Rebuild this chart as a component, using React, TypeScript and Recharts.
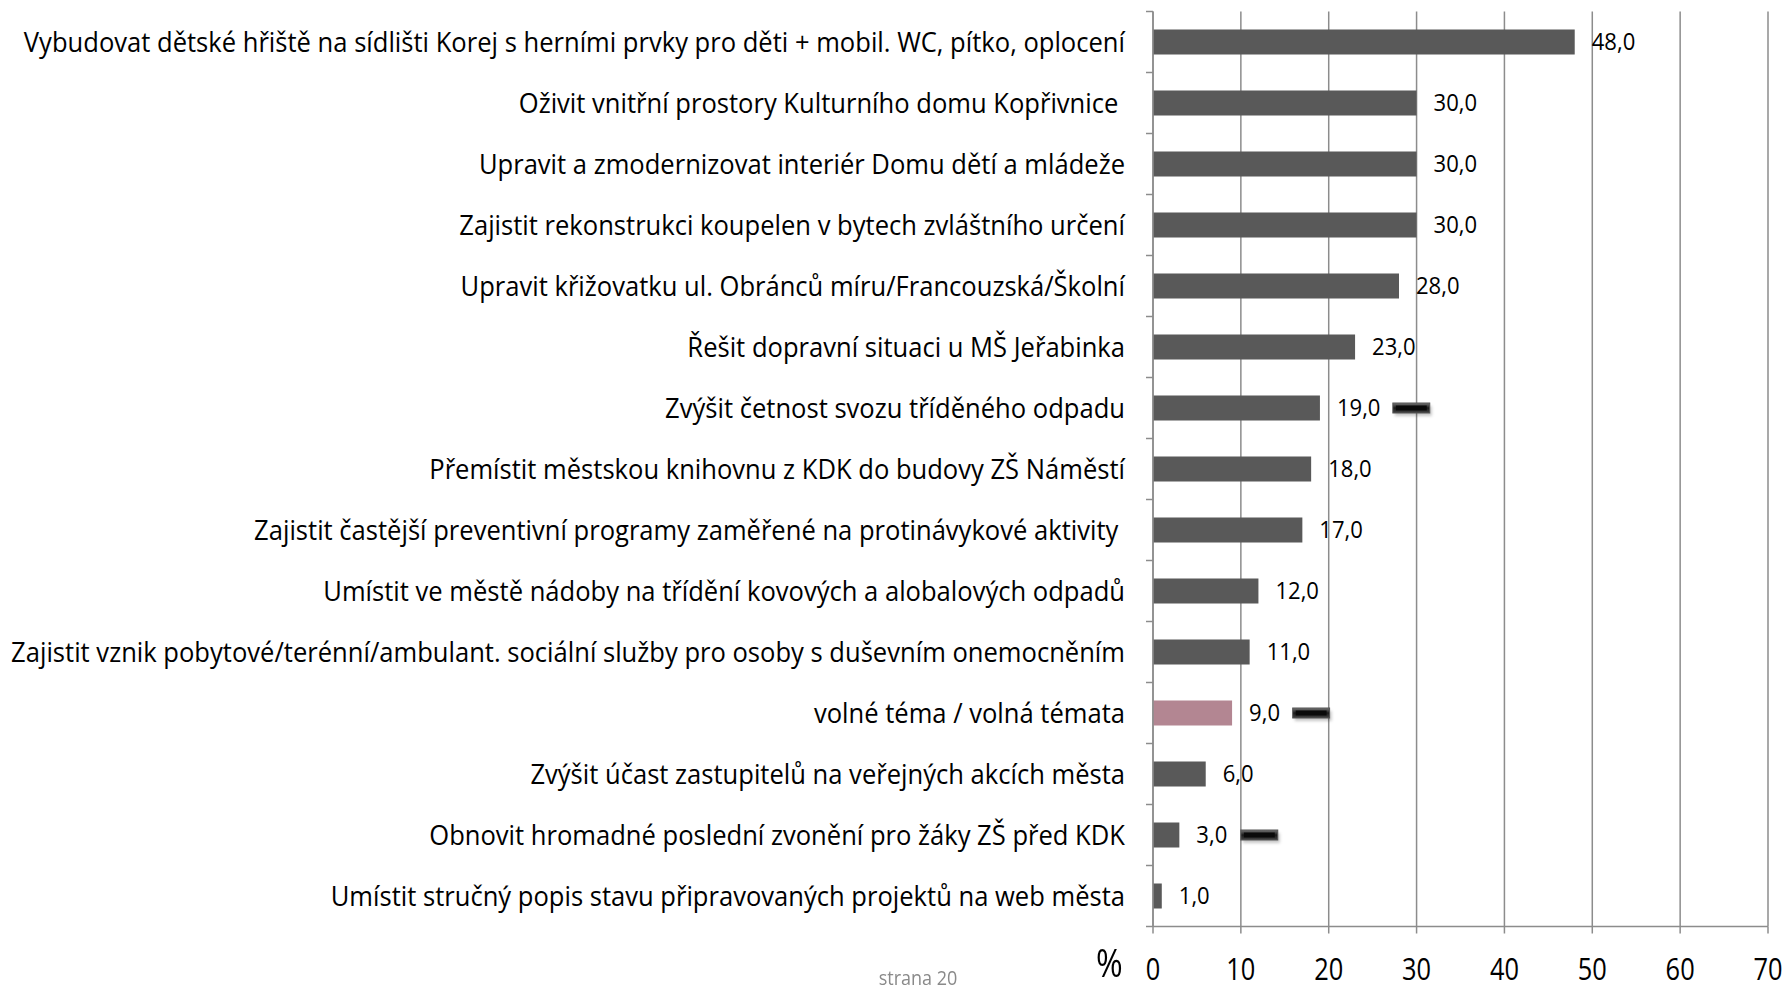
import React from 'react';
import { BarChart, Bar, XAxis, YAxis, CartesianGrid, LabelList, Cell } from 'recharts';

const categories = [
  'Vybudovat dětské hřiště na sídlišti Korej s herními prvky pro děti + mobil. WC, pítko, oplocení',
  'Oživit vnitřní prostory Kulturního domu Kopřivnice\u00A0',
  'Upravit a zmodernizovat interiér Domu dětí a mládeže',
  'Zajistit rekonstrukci koupelen v bytech zvláštního určení',
  'Upravit křižovatku ul. Obránců míru/Francouzská/Školní',
  'Řešit dopravní situaci u MŠ Jeřabinka',
  'Zvýšit četnost svozu tříděného odpadu',
  'Přemístit městskou knihovnu z KDK do budovy ZŠ Náměstí',
  'Zajistit častější preventivní programy zaměřené na protinávykové aktivity\u00A0',
  'Umístit ve městě nádoby na třídění kovových a alobalových odpadů',
  'Zajistit vznik pobytové/terénní/ambulant. sociální služby pro osoby s duševním onemocněním',
  'volné téma / volná témata',
  'Zvýšit účast zastupitelů na veřejných akcích města',
  'Obnovit hromadné poslední zvonění pro žáky ZŠ před KDK',
  'Umístit stručný popis stavu připravovaných projektů na web města',
];
const values = [48, 30, 30, 30, 28, 23, 19, 18, 17, 12, 11, 9, 6, 3, 1];
const highlighted = [false, false, false, false, false, false, false, false, false, false, false, true, false, false, false];
const markerStart: (number | null)[] = [null, null, null, null, null, null, 27.3, null, null, null, null, 15.9, null, 10.0, null];
const markerLength = 4.2;
const xTicks = [0, 10, 20, 30, 40, 50, 60, 70];

const data = categories.map((name, i) => ({
  name,
  value: values[i],
  hl: highlighted[i],
  mStart: markerStart[i],
}));

const W = 1789;
const H = 990;
const X_AXIS_H = 63.5;
const M = { top: 11.5, right: 21, bottom: 0, left: 0 };
const Y_AXIS_W = 1153;
const band = (H - M.top - M.bottom - X_AXIS_H) / categories.length;
const FONT = '"Open Sans", Lato, sans-serif';
const AXIS_COLOR = '#8c8c8c';

const CategoryTick = (props: any) => {
  const { x, y, payload, index } = props;
  const axisX = x;
  return (
    <g>
      <line x1={axisX - 7} x2={axisX} y1={y - band / 2} y2={y - band / 2} stroke={AXIS_COLOR} strokeWidth={1.5} />
      {index === categories.length - 1 && (
        <line x1={axisX - 7} x2={axisX} y1={y + band / 2} y2={y + band / 2} stroke={AXIS_COLOR} strokeWidth={1.5} />
      )}
      <g transform={`translate(${axisX - 28},${y}) scale(0.93,1)`}>
        <text x={0} y={0} dy="0.35em" textAnchor="end" fontFamily={FONT} fontSize={27.5} fill="#000">
          {payload.value}
        </text>
      </g>
    </g>
  );
};

const XTick = (props: any) => {
  const { x, y, payload } = props;
  return (
    <g transform={`translate(${x},${y}) scale(0.82,1)`}>
      <text x={0} y={0} textAnchor="middle" fontFamily={FONT} fontSize={31} fill="#000">
        {payload.value}
      </text>
    </g>
  );
};

const BarShape = (props: any) => {
  const { x, y, width, height, payload, value, fill } = props;
  const elems: React.ReactNode[] = [
    <rect key="b" x={x} y={y} width={width} height={height} fill={fill} />,
  ];
  if (payload && payload.mStart != null && value) {
    const ppu = width / value;
    const mx = x + payload.mStart * ppu;
    const mw = markerLength * ppu;
    const mh = 10;
    const my = y + height / 2 - mh / 2;
    elems.push(
      <rect key="s" x={mx + 2} y={my + 3} width={mw} height={mh} fill="rgba(0,0,0,0.22)" filter="url(#mshadow)" />,
      <rect key="m" x={mx} y={my} width={mw} height={mh} fill="url(#mgrad)" stroke="#555" strokeWidth={1} />,
      <rect key="i" x={mx + 3} y={my + 2.5} width={mw - 6} height={mh - 5} fill="#0a0a0a" />
    );
  }
  return <g>{elems}</g>;
};

const fmt = (v: any) => Number(v).toFixed(1).replace('.', ',');

const ValueLabel = (props: any) => {
  const { x, y, width, height, value } = props;
  return (
    <g transform={`translate(${x + width + 17},${y + height / 2}) scale(0.92,1)`}>
      <text x={0} y={0} dy="0.35em" textAnchor="start" fontFamily={FONT} fontSize={24} fill="#000">
        {fmt(value)}
      </text>
    </g>
  );
};

export default function App() {
  return (
    <div style={{ position: 'absolute', left: 0, top: 0, width: W, height: H, background: '#fff' }}>
      <BarChart width={W} height={H} data={data} layout="vertical" margin={M} barSize={25}>
        <defs>
          <linearGradient id="mgrad" x1="0" y1="0" x2="0" y2="1">
            <stop offset="0" stopColor="#777" />
            <stop offset="0.5" stopColor="#1a1a1a" />
            <stop offset="1" stopColor="#444" />
          </linearGradient>
          <filter id="mshadow" x="-20%" y="-50%" width="140%" height="200%">
            <feGaussianBlur stdDeviation="1.5" />
          </filter>
        </defs>
        <CartesianGrid horizontal={false} vertical={true} stroke={AXIS_COLOR} strokeWidth={1.5} />
        <XAxis
          type="number"
          domain={[0, 70]}
          ticks={xTicks}
          interval={0}
          height={X_AXIS_H}
          axisLine={{ stroke: AXIS_COLOR, strokeWidth: 1.5 }}
          tickLine={{ stroke: AXIS_COLOR, strokeWidth: 1.5 }}
          tickSize={7}
          tickMargin={46}
          tick={<XTick />}
        />
        <YAxis
          type="category"
          dataKey="name"
          width={Y_AXIS_W}
          interval={0}
          axisLine={{ stroke: AXIS_COLOR, strokeWidth: 1.5 }}
          tickLine={false}
          tickSize={0}
          tickMargin={0}
          tick={<CategoryTick />}
        />
        <Bar dataKey="value" isAnimationActive={false} shape={<BarShape />} fill="#595959">
          {data.map((d, i) => (
            <Cell key={i} fill={d.hl ? '#b38692' : '#595959'} />
          ))}
          <LabelList dataKey="value" content={<ValueLabel />} />
        </Bar>
      </BarChart>
      <div style={{ position: 'absolute', left: 1096, top: 942, fontFamily: FONT, fontSize: 38, color: '#000', lineHeight: '40px', transform: 'scaleX(0.85)', transformOrigin: 'left top' }}>%</div>
      <div style={{ position: 'absolute', left: 858, top: 966, width: 120, textAlign: 'center', fontFamily: FONT, fontSize: 20, color: '#8a8a8a', lineHeight: '24px', transform: 'scaleX(0.9)' }}>strana 20</div>
    </div>
  );
}
